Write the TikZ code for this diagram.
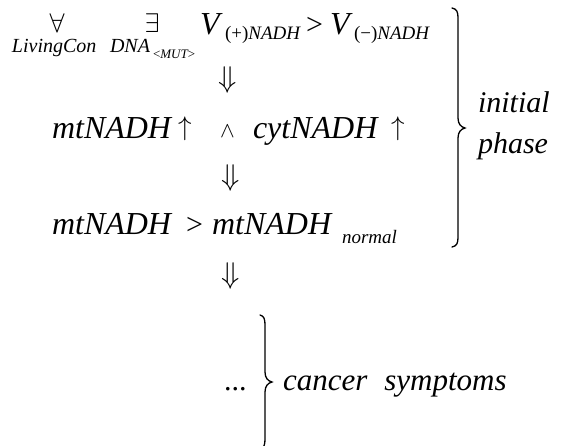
\documentclass[tikz,border=0pt]{standalone}
\usepackage{fontspec}
\setmainfont{Liberation Serif}
\newcommand\symsc[2]{\scalebox{#1}{$#2$}}
\begin{document}
\begin{tikzpicture}[x=1pt,y=-1pt,
  every node/.style={inner sep=0pt, outer sep=0pt},
  txt/.style={anchor=base west, font=\fontsize{30}{36}\selectfont\itshape},
  mainline/.style={anchor=base west, font=\fontsize{32}{38}\selectfont\itshape},
  up/.style={anchor=base west, font=\fontsize{30}{36}\selectfont\upshape},
  bigv/.style={anchor=base west, font=\fontsize{32}{38}\selectfont\itshape},
  subs/.style={anchor=base west, font=\fontsize{19}{22}\selectfont\itshape},
  small/.style={anchor=base west, font=\fontsize{20}{24}\selectfont\itshape},
  tiny/.style={anchor=base west, font=\fontsize{13}{15}\selectfont\itshape},
  quant/.style={anchor=base, font=\normalsize},
  arr/.style={anchor=base west, font=\normalsize},
  andsym/.style={anchor=base west, font=\normalsize},
  imp/.style={anchor=center, font=\normalsize},
  bracestyle/.style={line width=1.3pt, line cap=round}]
\useasboundingbox (0,0) rectangle (565,445);
\clip (0,0) rectangle (565,445);

% line 1
\node[quant] (fa) at (57,32) {\symsc{2.7}{\forall}};
\node[small] (lc) at (12,52) {LivingCon};
\node[quant] (ex) at (152,32) {\symsc{2.7}{\exists}};
\node[small] (dna) at (110,52) {DNA};
\node[tiny] (mut) at (153,58) {{\upshape<}MUT{\upshape>}};
\node[bigv] (v1) at (200,34) {V};
\node[subs] (s1) at (225,39) {{\upshape(+)}NADH};
\node[up] (gt1) at (306,34) {>};
\node[bigv] (v2) at (330,34) {V};
\node[subs] (s2) at (354,39) {{\upshape(−)}NADH};

\node[imp] (a1) at (228,80) {\symsc{3}{\Downarrow}};

% line 2
\node[mainline] (m1) at (52,138) {mtNADH};
\node[arr] (up1) at (178,135) {\symsc{2.7}{\uparrow}};
\node[andsym] (and) at (220,137) {\symsc{2.2}{\wedge}};
\node[mainline] (cyt) at (253,138) {cytNADH};
\node[arr] (up2) at (391,135) {\symsc{2.7}{\uparrow}};

\node[imp] (a2) at (231,178) {\symsc{3}{\Downarrow}};

% line 3
\node[mainline] (m2) at (52,234) {mtNADH};
\node[up] (gt2) at (186,234) {>};
\node[mainline] (m3) at (212,234) {mtNADH};
\node[subs] (nrm) at (342,243) {normal};

\node[imp] (a3) at (231,276) {\symsc{3}{\Downarrow}};

% top brace
\draw[bracestyle] (452,8) .. controls (457,9) and (458,12) .. (458,18)
  -- (458,118) .. controls (458,124) and (461,127) .. (465,128)
  .. controls (461,129) and (458,132) .. (458,138)
  -- (458,237) .. controls (458,243) and (457,246) .. (452,247);
\node[txt] (ini) at (478,112) {initial};
\node[txt] (pha) at (478,153) {phase};

% bottom part
\node[up] (dots) at (224,390) {...};
\draw[bracestyle] (260,315) .. controls (264,316) and (265,319) .. (265,325)
  -- (265,372) .. controls (265,378) and (268,381) .. (272,382)
  .. controls (268,383) and (265,386) .. (265,392)
  -- (265,439) .. controls (265,445) and (264,448) .. (260,449);
\node[anchor=base west, font=\fontsize{31}{36}\selectfont\itshape] (can) at (283,390) {cancer\hspace{17pt}symptoms};
\end{tikzpicture}
\end{document}
